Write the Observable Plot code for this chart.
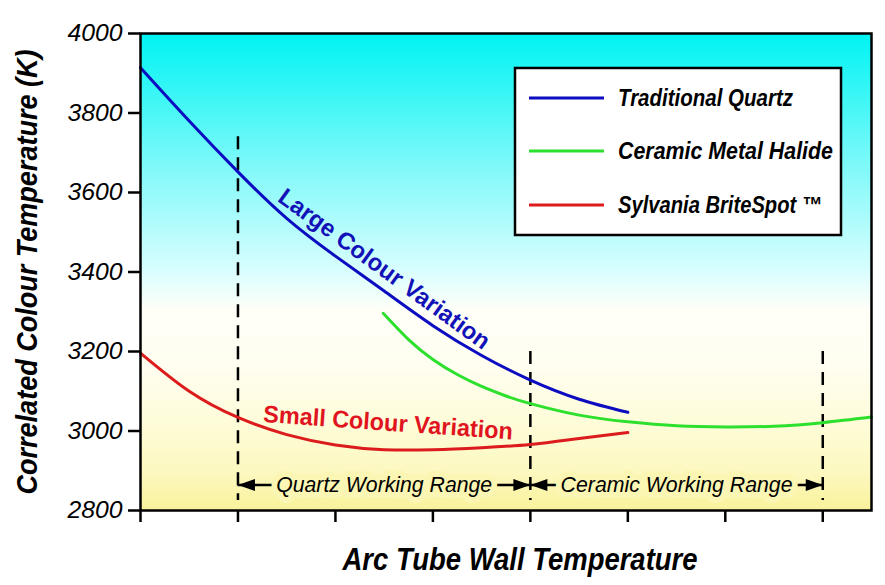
<!DOCTYPE html>
<html><head><meta charset="utf-8">
<script src="https://cdn.jsdelivr.net/npm/d3@7"></script>
<script src="https://cdn.jsdelivr.net/npm/@observablehq/plot@0.6"></script>
<style>
html,body{margin:0;padding:0;background:#fff;}
#chart{width:885px;height:585px;}
</style></head><body><div id="chart"></div>
<script>
// ---- data ----
const xTicks = [0, 1, 2, 3, 4, 5, 6, 7];
const yTicks = [2800, 3000, 3200, 3400, 3600, 3800, 4000];
const quartzX = [0, 0.5, 1, 1.5, 2, 2.5, 3, 3.5, 4, 4.5, 5];
const quartzY = [3914, 3780, 3652, 3535, 3440, 3352, 3265, 3190, 3128, 3080, 3047];
const ceramicX = [2.49, 2.75, 3, 3.25, 3.5, 3.75, 4, 4.5, 5, 5.5, 6, 6.5, 7, 7.5];
const ceramicY = [3296, 3230, 3180, 3142, 3112, 3088, 3069, 3040, 3023, 3013, 3010, 3012, 3021, 3035];
const britespotX = [0, 0.5, 1, 1.5, 2, 2.5, 3, 3.5, 4, 4.5, 5];
const britespotY = [3196, 3100, 3034, 2991, 2965, 2953, 2953, 2958, 2966, 2981, 2996];
const seriesNames = ["Traditional Quartz", "Ceramic Metal Halide", "Sylvania BriteSpot \u2122"];
const dividerX = [1, 4, 7];
const dividerTop = [3740, 3200, 3200];
const dividerBottom = 2825;
const rangeLabels = ["Quartz Working Range", "Ceramic Working Range"];
const rangeStart = [1, 4];
const rangeEnd = [4, 7];
const rangeLevel = 2864;
const noteLabels = ["Large Colour Variation", "Small Colour Variation"];
const noteX = [2.5, 2.54];
const noteY = [3407, 3020];
const xTitle = "Arc Tube Wall Temperature";
const yTitle = "Correlated Colour Temperature (K)";

// ---- styles ----
const seriesColors = ["#0c0cc0", "#2ee02e", "#dc1c1c"];
const font = "'Liberation Sans', Arial, Helvetica, sans-serif";
const stopOffsets = [0, 0.28, 0.5, 0.58, 0.7, 0.82, 0.92, 1];
const stopColors = ["#00f3f3", "#80f9f9", "#dafefe", "#fffff8", "#fffef0", "#fefcd8", "#fcf8c0", "#f9f29a"];
const bgAt = d3.scaleLinear().domain(stopOffsets).range(stopColors);
const haloColor = bgAt((4000 - rangeLevel) / 1200);

// ---- tables ----
const curves = [
  ...quartzX.map((x, i) => ({s: seriesNames[0], x, y: quartzY[i]})),
  ...ceramicX.map((x, i) => ({s: seriesNames[1], x, y: ceramicY[i]})),
  ...britespotX.map((x, i) => ({s: seriesNames[2], x, y: britespotY[i]}))
];
const dividers = dividerX.map((x, i) => ({x, top: dividerTop[i], bottom: dividerBottom}));
const ranges = rangeLabels.map((label, i) => ({label, x1: rangeStart[i], x2: rangeEnd[i], mid: (rangeStart[i] + rangeEnd[i]) / 2, y: rangeLevel}));
const notes = noteLabels.map((label, i) => ({label, x: noteX[i], y: noteY[i]}));

const head = {draw(ctx) { ctx.moveTo(0, 0); ctx.lineTo(-17, -6); ctx.lineTo(-17, 6); ctx.closePath(); }};

const plot = Plot.plot({
  width: 885, height: 585,
  marginLeft: 140, marginTop: 33, marginRight: 14, marginBottom: 75,
  x: {domain: [0, 7.5]},
  y: {domain: [2800, 4000]},
  color: {domain: seriesNames, range: seriesColors},
  style: {fontFamily: font, fontSize: "23px", fontStyle: "italic", background: "white", color: "black", overflow: "visible"},
  marks: [
    Plot.frame({fill: "url(#bgGrad)"}),
    Plot.ruleX(dividers, {x: "x", y1: "top", y2: "bottom", stroke: "black", strokeWidth: 2.5, strokeDasharray: "13,8"}),
    Plot.ruleY(ranges, {x1: "x1", x2: "x2", y: "y", stroke: "black", strokeWidth: 2.5}),
    Plot.dot(ranges, {x: "x2", y: "y", symbol: head, r: 6, fill: "black"}),
    Plot.dot(ranges, {x: "x1", y: "y", symbol: head, r: 6, fill: "black", rotate: 180}),
    Plot.text(ranges, {x: "mid", y: "y", text: "label", fontSize: 22, fontStyle: "italic", fill: "black",
      stroke: haloColor, strokeWidth: 12, strokeLinejoin: "round", className: "rangeLabel"}),
    Plot.line(curves, {x: "x", y: "y", z: "s", stroke: "s", strokeWidth: 3, curve: "natural"}),
    Plot.text(notes.slice(0, 1), {x: "x", y: "y", text: "label", rotate: 36, fontSize: 24, fontWeight: "bold", fontStyle: "normal", fill: "#1212b8", className: "noteBlue"}),
    Plot.text(notes.slice(1), {x: "x", y: "y", text: "label", rotate: 4, fontSize: 24, fontWeight: "bold", fontStyle: "normal", fill: "#e0141e", className: "noteRed"}),
    Plot.axisY({ticks: yTicks, tickSize: 12, tickPadding: 6, tickFormat: d => String(d), strokeWidth: 2.5, label: null, fontSize: 24, fontStyle: "italic", fill: "black", className: "yTicks"}),
    Plot.axisX({ticks: xTicks, tickSize: 12, tickFormat: () => "", strokeWidth: 2.5, label: null}),
    Plot.frame({stroke: "black", strokeWidth: 2.5}),
    Plot.text([yTitle], {frameAnchor: "left", dx: -113, rotate: -90, textAnchor: "middle", text: d => d, fontSize: 30, fontWeight: "bold", fontStyle: "italic", fill: "black", className: "yTitle"}),
    Plot.text([xTitle], {frameAnchor: "bottom", dx: 14, dy: 59, textAnchor: "middle", text: d => d, fontSize: 32, fontWeight: "bold", fontStyle: "italic", fill: "black", className: "xTitle"})
  ]
});

const svg = d3.select(plot);
const defs = svg.insert("defs", ":first-child");
const grad = defs.append("linearGradient").attr("id", "bgGrad").attr("x1", 0).attr("x2", 0).attr("y1", 0).attr("y2", 1);
stopOffsets.forEach((o, i) => grad.append("stop").attr("offset", o).attr("stop-color", stopColors[i]));

function fit(sel, lengths) {
  sel.each(function(d, i) {
    d3.select(this).attr("textLength", lengths[i % lengths.length]).attr("lengthAdjust", "spacingAndGlyphs");
  });
}
fit(svg.selectAll(".rangeLabel text"), [216, 232]);
fit(svg.selectAll(".noteBlue text"), [255]);
fit(svg.selectAll(".noteRed text"), [250]);
fit(svg.selectAll(".yTitle text"), [445]);
fit(svg.selectAll(".xTitle text"), [355]);
fit(svg.selectAll(".yTicks text"), [55]);

// legend
const lg = svg.append("g").attr("font-family", font).attr("text-anchor", "start");
lg.append("rect").attr("x", 515).attr("y", 68).attr("width", 326).attr("height", 167)
  .attr("fill", "white").attr("stroke", "black").attr("stroke-width", 2.5);
const rowY = [98, 151, 205];
const rowLen = [175, 215, 204];
seriesNames.forEach((name, i) => {
  lg.append("line").attr("x1", 529).attr("x2", 604).attr("y1", rowY[i]).attr("y2", rowY[i])
    .attr("stroke", seriesColors[i]).attr("stroke-width", 3);
  lg.append("text").attr("x", 618).attr("y", rowY[i] + 8).attr("font-size", 23)
    .attr("text-anchor", "start")
    .attr("font-weight", "bold").attr("font-style", "italic").attr("fill", "black")
    .attr("textLength", rowLen[i]).attr("lengthAdjust", "spacingAndGlyphs").text(name);
});

document.getElementById("chart").appendChild(plot);
</script>
</body></html>
